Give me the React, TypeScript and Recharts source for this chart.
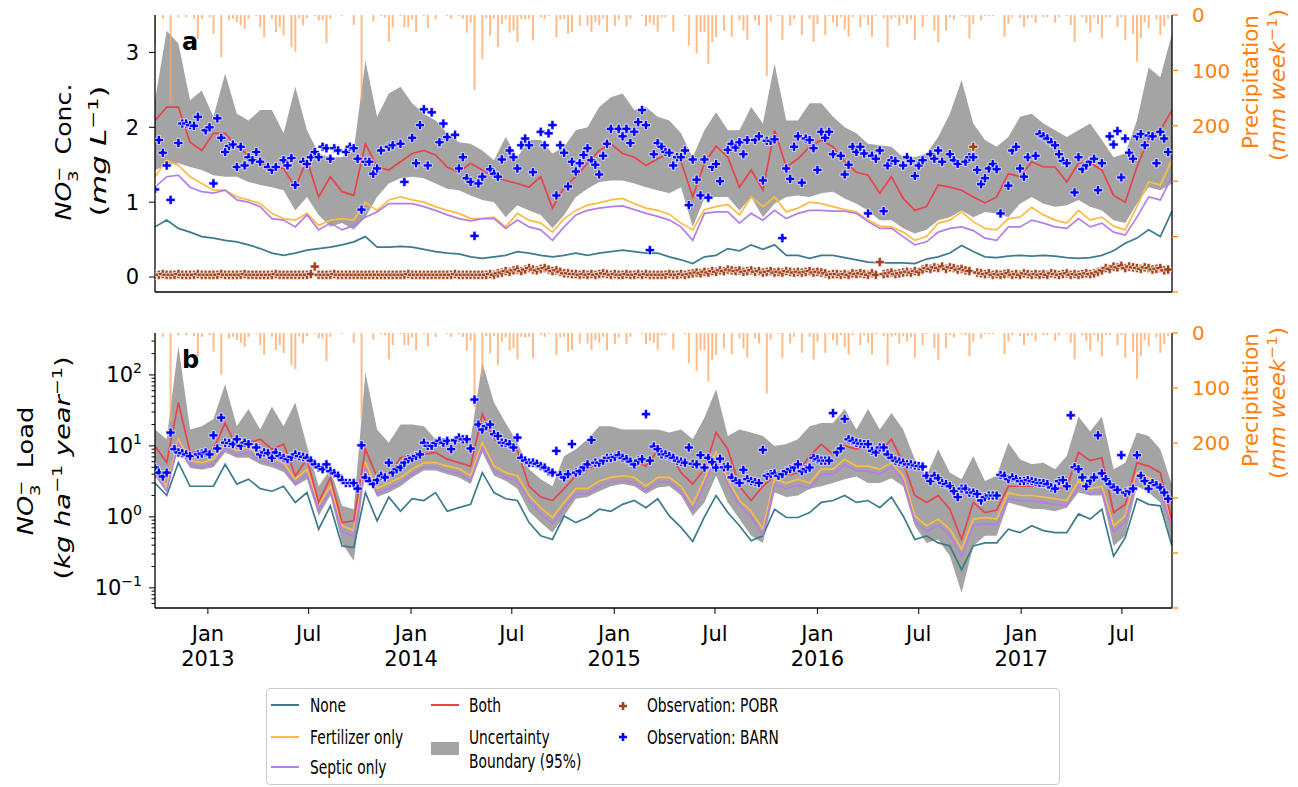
import React from 'react'
import { Area, Bar, ComposedChart, Line, Scatter, XAxis, YAxis } from 'recharts'

// weekly precipitation (mm week-1), first week starts 28 Sep 2012
const PRECIP = [
  54, 0, 7, 0, 160, 0, 4, 0, 4, 0, 6, 43, 7, 0, 4, 34, 0, 76, 0, 10,
  7, 13, 18, 25, 7, 0, 2, 22, 40, 0, 7, 31, 22, 37, 0, 58, 66, 6, 19, 6,
  0, 2, 10, 10, 51, 7, 0, 0, 2, 0, 0, 18, 0, 155, 0, 0, 12, 0, 2, 4,
  48, 22, 0, 2, 22, 22, 8, 31, 0, 2, 24, 0, 8, 0, 0, 2, 7, 0, 2, 7,
  32, 14, 135, 0, 80, 6, 37, 6, 58, 16, 8, 32, 28, 48, 7, 8, 7, 46, 0, 4,
  7, 2, 0, 40, 8, 7, 34, 31, 0, 19, 0, 19, 31, 13, 18, 7, 31, 0, 20, 8,
  0, 20, 7, 0, 0, 2, 20, 14, 18, 30, 4, 4, 0, 30, 0, 0, 2, 55, 0, 69,
  31, 31, 88, 49, 40, 0, 28, 0, 39, 0, 10, 28, 45, 0, 10, 19, 0, 110, 12, 0,
  2, 45, 0, 19, 7, 0, 36, 0, 7, 48, 16, 0, 36, 2, 13, 22, 4, 26, 39, 4,
  0, 22, 4, 18, 39, 2, 0, 6, 58, 7, 4, 19, 6, 16, 8, 45, 0, 22, 2, 0,
  28, 49, 0, 28, 4, 8, 0, 2, 4, 42, 16, 0, 10, 2, 2, 2, 0, 0, 39, 16,
  4, 0, 6, 22, 6, 4, 14, 0, 4, 4, 0, 14, 4, 0, 2, 18, 48, 0, 4, 14,
  32, 4, 16, 42, 4, 4, 0, 22, 4, 45, 0, 34, 84, 42, 13, 24, 0, 8, 36, 20, 6,
]

// weekly observations
const POBR_CONC = [
  .03, .03, .04, .03, .03, .03, .04, .03, .03, .03, .03, .04, .03, .03, .03, .03, .03, .04, .03, .03,
  .03, .03, .03, .04, .03, .03, .03, .03, .03, .03, .03, .04, .03, .03, .03, .03, .03, .03, .03, .03,
  .04, .14, .03, .03, .03, .03, .04, .03, .03, .03, .03, .03, .03, .03, .03, .03, .03, .03, .03, .03,
  .03, .03, .03, .03, .03, .04, .03, .03, .03, .03, .03, .03, .03, .03, .03, .03, .03, .04, .03, .03,
  .03, .03, .03, .03, .03, .03, .04, .03, .05, .06, .08, .07, .09, .1, .08, .1, .12, .1, .09, .11,
  .12, .1, .08, .09, .07, .05, .05, .04, .04, .03, .04, .03, .04, .03, .04, .05, .04, .03, .04, .03,
  .03, .04, .03, .03, .04, .03, .04, .03, .03, .03, .03, .03, .04, .03, .03, .04, .03, .04, .05, .06,
  .05, .07, .06, .08, .07, .09, .08, .1, .09, .08, .09, .07, .08, .09, .07, .08, .06, .07, .08, .06,
  .07, .06, .08, .07, .06, .07, .06, .07, .08, .06, .07, .06, .05, .03, .04, .04, .03, .04, .03, .05,
  .04, .05, .04, .03, .05, .03, .2, .04, .05, .06, .04, .05, .06, .07, .06, .08, .07, .1, .12, .11,
  .13, .12, .14, .11, .13, .12, .1, .11, .09, .08, 1.74, .06, .05, .04, .05, .03, .04, .03, .04, .05,
  .03, .04, .03, .05, .04, .03, .04, .03, .04, .03, .05, .04, .03, .04, .05, .03, .04, .03, .04, .05,
  .04, .05, .07, .09, .12, .11, .14, .13, .15, .12, .14, .13, .12, .11, .13, .12, .1, .11, .12, .09, .1,
]

const BARN_CONC = [
  1.17, 1.83, 1.66, 1.49, 1.03, null, 1.79, 2.05, 2.05, 2.03, 2.02, 2.14, null, 1.96, 2.0, 1.25, 2.12, 1.86, 1.67, 1.75,
  1.77, 1.47, 1.74, 1.49, 1.6, 1.56, 1.67, 1.54, null, 1.47, 1.43, 1.47, null, 1.56, 1.49, 1.59, 1.23, null, 1.54, 1.51,
  1.6, 1.67, 1.6, 1.74, 1.72, 1.58, 1.72, 1.69, null, 1.67, 1.74, 1.72, 1.58, 0.9, 1.54, 1.54, 1.38, 1.45, 1.69, null,
  1.74, 1.76, null, 1.78, 1.27, null, 1.86, 1.52, 2.03, 2.24, 1.49, 2.2, null, 1.8, 2.05, 1.87, null, 1.9, 1.45, 1.6,
  1.32, 1.27, 0.55, 1.25, 1.34, null, 1.44, 1.38, 1.34, 1.57, null, 1.69, 1.6, 1.45, 1.76, 1.85, 1.76, 1.4, null, 1.94,
  1.76, 1.92, 2.03, 1.09, 1.76, 1.66, 1.21, 1.54, 1.41, 1.52, 1.63, 1.72, 1.56, 1.5, 1.37, 1.62, 1.78, 1.98, null, 1.98,
  1.88, 1.98, 1.79, 1.94, 2.07, 2.23, 2.03, 0.36, 1.64, 1.79, 1.74, 1.67, 1.66, 1.49, 1.6, 1.6, 1.69, 0.96, 1.57, 1.3,
  1.09, 1.57, 1.06, 1.47, 1.51, 1.28, null, 1.7, 1.78, 1.73, 1.8, 1.64, 1.83, null, 1.83, 1.88, 1.29, 1.82, 1.82, 1.84,
  null, 0.52, 1.45, 1.31, 1.74, 1.88, 1.26, 1.85, 1.83, 1.72, 1.43, 1.94, 1.86, 1.94, 1.64, null, 1.62, 1.37, 1.5, 1.74,
  1.67, 1.74, 1.65, 0.85, 1.62, 1.58, 1.69, 0.88, 1.49, 1.56, 1.55, null, 1.49, 1.6, 1.55, 1.35, 1.49, 1.56, null, 1.64,
  1.58, 1.69, 1.54, null, 1.64, 1.56, 1.51, null, 1.54, 1.6, 1.6, 1.43, 1.24, 1.32, 1.45, 1.51, 1.44, 0.85, null, 1.22,
  1.69, 1.74, 1.45, 1.34, 1.6, null, 1.62, 1.91, 1.88, 1.85, 1.8, 1.76, 1.64, 1.55, 1.52, null, 1.13, 1.6, 1.44, 1.49,
  1.54, 1.58, 1.16, 1.52, null, 1.88, 1.77, 1.95, 1.33, 1.85, 1.66, 1.58, 1.88, 1.91, 1.76, 1.89, 1.88, 1.52, 1.94, 1.85, 1.67,
]

const BARN_LOAD = [
  4.95, 4.2, 3.7, 4.2, 15.4, 9.0, 8.1, 7.9, 7.6, 7.2, null, 7.6, 7.8, 8.1, 7.6, 14.1, 9.2, 25, 11.1, 11,
  10.6, 12.4, 10, 11.1, 10.6, null, 9.5, 7.6, 8.1, 7.9, 6.8, 8.1, 7.2, 6.8, 6.5, 7, 7.6, 7.2, 7.0, 6.8,
  6.2, 5.5, 5.0, 4.7, 5.5, 4.4, 4.1, 3.8, 3.3, 3.0, 3.0, 3.0, 2.5, 10.2, 3.6, 3.2, 2.9, 3.3, 3.8, 3.6,
  5.8, 4.2, 4.7, 5.0, 5.8, 6.5, 6.8, 7.2, 7.6, 11.1, 10, 10, 11, 11.8, 11.1, 11.8, 9.0, 12, 13.1, 12.4,
  12.4, 9.2, 45, 20, 17, 19, 20, 14.6, 13.8, 11.1, 11, 10.6, 9.5, 13.1, 6.8, 6.2, 5.8, 5.8, 5.6, 5.2,
  4.95, 4.4, 4.2, 8.5, 3.9, 3.6, 4.0, 10.6, 4.2, 4.4, 5.0, 5.5, 12.1, 5.8, 5.8, 6.2, 6.8, 6.8, 7.0, 7.4,
  6.8, 6.5, 6.0, 5.5, 6.2, 6.5, 28, 6.2, 9.8, 9.0, 7.6, 7.6, 7.2, 6.8, 6.2, 6.0, 5.8, 9.5, 5.6, 5.5,
  7.4, 4.95, 6.8, 5.9, 4.95, 6.6, 5.0, 5.1, 3.6, 3.2, 3.0, 4.6, 3.4, 3.2, 3.1, 3.0, 8.8, 3.8, 4.0, 4.1,
  3.8, 4.0, 4.4, 4.7, 4.95, 5.5, 4.4, 4.7, 4.95, 6.8, 6.5, 6.2, 6.2, 6.2, 29, 8.1, 9.2, 24, 12.4, 11.8,
  11.1, 10.8, 10.6, 10.6, 8.5, 8.1, 9.5, 9.5, 7.6, 6.8, 6.2, 6.0, 5.8, 5.5, 5.5, 5.3, 5.2, 5.1, 3.8, 3.2,
  3.8, 3.5, 3.0, 2.9, 2.7, 2.3, 1.9, 2.5, 2.5, 2.2, 2.2, 2.1, 1.7, 1.9, 2.0, 2.0, 2.0, 3.9, 3.8, 3.4,
  3.6, 3.4, 3.2, 3.2, 3.3, 3.2, 3.1, 3.0, 3.0, 2.9, 2.6, 2.5, 3.2, 3.3, 2.7, 27, 5, 4.7, 3.6, 2.7,
  3.2, 3.6, 14.1, 4.1, 3.4, 2.9, 2.6, 2.4, 7.4, 2.2, 2.3, 2.5, 7.4, 3.8, 3.2, 2.5, 3.0, 2.8, 2.6, 2.2, 1.8,
]

// model output, one value every third week
const NONE_A = [
  .67, .76, .65, .60, .54, .52, .49, .47, .43, .38, .32, .29, .32, .36, .38, .40, .43, .47, .54, .40,
  .40, .41, .40, .37, .34, .32, .31, .27, .25, .27, .29, .34, .32, .29, .27, .29, .32, .29, .32, .34,
  .36, .34, .32, .32, .27, .23, .18, .27, .29, .38, .35, .43, .37, .43, .29, .29, .25, .29, .29, .26,
  .23, .20, .19, .19, .19, .18, .24, .27, .32, .42, .34, .27, .26, .28, .29, .28, .29, .28, .26, .25,
  .26, .29, .35, .45, .52, .63, .54, .88,
]
const FERT_A = [
  1.34, 1.56, 1.49, 1.34, 1.25, 1.16, 1.16, 1.07, 1.03, .98, .85, .78, .76, .85, .69, .76, .78, .76, 1.0, .89,
  1.03, 1.07, 1.03, 1.0, .94, .89, .85, .78, .78, .80, .67, .85, .76, .72, .60, .78, .89, .96, .99, 1.03,
  1.05, .98, .92, .89, .84, .72, .63, .90, .94, .97, .83, 1.07, .94, 1.07, .87, .92, 1.0, .98, .94, .90,
  .87, .76, .68, .67, .60, .49, .54, .72, .76, .87, .74, .65, .63, .78, .80, .93, .83, .76, .72, .89,
  .76, .80, .68, .63, .94, 1.27, 1.23, 1.56,
]
const SEPTIC_A = [
  1.2, 1.34, 1.36, 1.2, 1.14, 1.12, 1.16, 1.03, 1.0, .94, .78, .76, .67, .83, .63, .72, .63, .69, .80, .87,
  .98, .98, .98, .94, .89, .83, .78, .75, .78, .78, .65, .76, .67, .63, .49, .67, .83, .89, .92, .94,
  .95, .90, .85, .81, .76, .67, .49, .85, .87, .87, .72, .85, .76, .89, .78, .85, .89, .89, .88, .88,
  .85, .74, .65, .65, .54, .43, .47, .60, .65, .67, .62, .52, .49, .67, .67, .76, .72, .67, .65, .78,
  .67, .72, .60, .56, .80, 1.07, 1.03, 1.34,
]
const BOTH_A = [
  2.09, 2.27, 2.27, 1.8, 1.69, 1.92, 1.92, 1.74, 1.63, 1.52, 1.47, 1.45, 1.2, 1.56, 1.07, 1.34, 1.14, 1.09, 1.78, 1.47,
  1.43, 1.54, 1.65, 1.69, 1.63, 1.47, 1.4, 1.52, 1.43, 1.34, 1.29, 1.25, 1.2, 1.34, .92, 1.2, 1.34, 1.52, 1.69, 1.78,
  1.65, 1.6, 1.49, 1.58, 1.65, 1.54, 1.07, 1.52, 1.75, 1.6, 1.2, 1.43, 1.16, 1.96, 1.47, 1.58, 1.74, 1.83, 1.74, 1.54,
  1.4, 1.36, 1.12, 1.34, 1.05, .89, .94, 1.23, 1.2, 1.16, 1.07, .99, 1.07, 1.38, 1.34, 1.54, 1.47, 1.47, 1.27, 1.52,
  1.52, 1.43, 1.09, 1.0, 1.47, 1.85, 1.96, 2.23,
]
const LOW_A = [
  1.43, 1.49, 1.52, 1.47, 1.43, 1.36, 1.34, 1.34, 1.27, 1.23, 1.2, 1.16, .89, 1.07, .83, .67, .72, .63, .8, 1.07,
  1.25, 1.32, 1.34, 1.32, 1.25, 1.18, 1.16, 1.09, 1.03, 1.0, .8, .96, .89, .83, .65, .83, 1.07, 1.18, 1.27, 1.29,
  1.29, 1.25, 1.2, 1.16, 1.12, 1.2, .67, 1.05, 1.07, 1.07, .89, 1.07, .8, .98, 1.07, 1.09, 1.07, 1.12, 1.14, 1.05,
  .98, .89, .76, .76, .65, .58, .63, .76, .8, .89, .8, .87, .85, .8, .98, 1.07, .98, .94, .96, 1.03,
  .94, .89, .76, .72, .98, 1.2, 1.16, 1.25,
]
const HIGH_A = [
  2.36, 3.29, 3.12, 2.36, 2.49, 2.14, 2.72, 2.18, 2.09, 2.23, 2.23, 1.92, 2.54, 1.96, 1.65, 1.6, 1.6, 1.69, 2.89, 2.14,
  2.45, 2.54, 2.32, 2.18, 2.09, 1.92, 1.8, 1.78, 1.69, 1.56, 1.87, 1.6, 1.83, 1.83, 1.65, 1.74, 1.96, 2.0, 2.27, 2.4,
  2.45, 2.23, 2.27, 2.14, 2.09, 1.92, 1.6, 1.96, 2.2, 1.96, 1.96, 2.27, 2.05, 2.85, 2.09, 2.09, 2.32, 2.32, 2.14, 2.0,
  1.92, 1.78, 1.76, 1.74, 1.6, 1.6, 1.65, 1.87, 2.18, 2.63, 2.05, 1.83, 1.74, 1.87, 2.14, 2.18, 2.05, 1.96, 1.87, 1.96,
  2.05, 1.83, 1.6, 1.65, 2.09, 2.8, 2.67, 3.25,
]

const NONE_B = [
  3.0, 2.0, 5.8, 2.7, 2.7, 2.7, 5.5, 2.9, 3.4, 2.5, 2.3, 2.7, 1.6, 2.2, .67, 1.43, .39, .37, 2.2, .88,
  1.9, 1.2, 1.8, 1.7, 2.2, 1.2, 1.35, 1.5, 4.2, 2.2, 1.8, 1.7, .83, .54, .48, 1.03, .83, .98, 1.28, 1.2,
  1.5, 1.7, 1.35, 1.8, 1.03, .71, .45, 1.0, 2.0, 1.15, .75, .46, .54, 1.28, .98, .98, 1.15, 1.6, 1.7, 2.0,
  1.6, 1.7, 1.35, 1.9, 1.03, .48, .54, .43, .39, .18, .39, .43, .43, .67, .6, .75, .64, .6, .6, 1.1,
  .93, 1.28, .28, .51, 1.8, 1.5, 1.43, .39,
]
const FERT_B = [
  4.7, 2.7, 12.4, 6.2, 5.8, 6.5, 10.6, 8.6, 9.5, 7.2, 6.8, 5.8, 3.4, 4.7, 1.5, 2.7, .75, .64, 5.8, 2.5,
  3.0, 3.6, 4.7, 5.8, 5.8, 5.2, 4.8, 3.8, 11.1, 5.2, 4.2, 3.8, 2.0, 1.35, .98, 1.6, 2.5, 2.5, 3.2, 3.6,
  3.8, 3.6, 2.7, 3.6, 3.6, 2.7, 1.5, 3.4, 8.1, 3.4, 1.7, 1.2, .67, 3.4, 3.0, 3.4, 3.0, 4.7, 4.7, 6.5,
  5.2, 5.2, 4.7, 5.8, 3.8, 1.03, .75, .93, .67, .35, .93, .98, .93, 2.2, 2.0, 2.0, 1.9, 1.8, 1.7, 3.2,
  2.5, 2.7, .75, 1.03, 4.2, 3.6, 2.9, .83,
]
const SEPTIC_B = [
  4.0, 2.3, 11, 5.4, 5.0, 5.6, 9.2, 7.4, 8.2, 6.2, 5.8, 5.0, 2.9, 4.0, 1.25, 2.3, .62, .52, 5.0, 2.1,
  2.5, 3.0, 4.0, 5.0, 5.0, 4.4, 4.1, 3.2, 9.6, 4.4, 3.6, 3.2, 1.7, 1.12, .8, 1.35, 2.1, 2.1, 2.7, 3.1,
  3.2, 3.1, 2.3, 3.1, 3.1, 2.3, 1.25, 2.9, 7.0, 2.9, 1.45, 1.0, .55, 2.9, 2.5, 2.8, 2.5, 4.0, 4.0, 5.5,
  4.4, 4.4, 4.0, 5.0, 3.2, .85, .62, .77, .55, .28, .77, .8, .77, 1.8, 1.7, 1.7, 1.6, 1.5, 1.45, 2.7,
  2.1, 2.3, .62, .85, 3.6, 3.0, 2.4, .7,
]
const BOTH_B = [
  10, 5.8, 41, 8.1, 8.1, 9.0, 21, 9.5, 11.1, 12.4, 9.0, 10.6, 3.8, 6.5, 1.6, 3.6, .83, .88, 9.0, 3.6,
  3.8, 6.8, 7.2, 7.6, 8.1, 6.5, 5.8, 5.2, 28, 12.4, 10.6, 8.6, 2.7, 1.9, 1.7, 2.5, 3.8, 4.7, 5.8, 6.5,
  6.8, 6.2, 5.2, 8.6, 8.1, 4.2, 2.9, 4.7, 15.4, 9.0, 2.7, 1.7, 2.7, 3.8, 3.8, 4.2, 7.2, 10.6, 7.6, 10,
  9.0, 10, 8.1, 12.4, 5.8, 2.0, 1.6, 2.0, 1.28, .48, 1.6, 1.15, 1.25, 2.7, 2.7, 2.7, 2.85, 2.5, 2.6, 8.1,
  6.2, 6.8, 1.15, 1.5, 5.8, 5.2, 4.2, .88,
]
const LOW_B = [
  3.8, 2.5, 9, 4.9, 4.6, 5.0, 8.1, 6.8, 6.8, 5.5, 5.0, 4.3, 2.7, 3.4, 1.03, 2.0, .43, .24, 4.6, 1.9,
  2.2, 2.7, 3.6, 4.5, 4.5, 4.0, 3.6, 2.9, 8.1, 3.8, 3.2, 2.5, 1.2, .83, .6, 1.03, 1.8, 1.9, 2.3, 2.7,
  2.9, 2.7, 2.1, 2.6, 2.7, 2.0, 1.03, 1.6, 3.8, 1.6, .93, .54, .43, 2.2, 1.9, 2.0, 2.5, 2.7, 3.0, 3.4,
  3.7, 3.0, 3.0, 3.5, 2.7, .75, .43, .48, .28, .085, .39, .54, .54, 1.6, 1.43, 1.3, 1.28, 1.2, 1.35, 2.2,
  2.0, 2.0, .39, .54, 2.7, 2.2, 1.6, .43,
]
const HIGH_B = [
  17, 12.4, 257, 17, 19, 24, 74, 19, 33, 17, 36, 19, 41, 10, 2.7, 4.7, 1.43, 1.28, 108, 17,
  11.1, 20, 20, 19, 12.4, 12.4, 13.8, 12.4, 148, 41, 21, 11.1, 4.7, 3.4, 2.7, 7.2, 9.0, 12.4, 19, 19,
  17, 17, 17, 17, 15.4, 17, 12.4, 25, 63, 13.8, 17, 15.4, 13.8, 10, 10.6, 12.4, 19, 21, 21, 33,
  17, 33, 17, 29, 17, 6.5, 3.8, 9.0, 4.2, 3.4, 7.2, 3.2, 3.8, 11.1, 6.5, 5.5, 5.8, 4.7, 7.2, 26,
  16, 26, 4.7, 5.8, 15.4, 13.8, 9.0, 2.8,
]

const CONC_TICKS = [0, 1, 2, 3]
const LOAD_TICKS = [
  0.06, 0.07, 0.08, 0.09, 0.1, 0.2, 0.3, 0.4, 0.5, 0.6, 0.7, 0.8, 0.9,
  1, 2, 3, 4, 5, 6, 7, 8, 9, 10, 20, 30, 40, 50, 60, 70, 80, 90, 100, 200, 300,
]
const PRECIP_TICKS = [0, 100, 200, 300, 400, 500]
const X_TICK_DATES = [
  '2013-01-01', '2013-07-01', '2014-01-01', '2014-07-01', '2015-01-01',
  '2015-07-01', '2016-01-01', '2016-07-01', '2017-01-01', '2017-07-01',
]
const X_TICK_LABELS = ['Jan\n2013', 'Jul', 'Jan\n2014', 'Jul', 'Jan\n2015', 'Jul', 'Jan\n2016', 'Jul', 'Jan\n2017', 'Jul']

const START = Date.UTC(2012, 8, 28)
const END_DAY = 1827
const X_TICK_DAYS = X_TICK_DATES.map((d) => Math.round((Date.parse(d) - START) / 864e5))

const weekRows = PRECIP.map((p, i) => ({ day: i * 7, precip: p }))
const obsRows = (vals: (number | null)[]) =>
  vals.map((v, i) => ({ day: i * 7, v })).filter((d) => d.v != null)

const modelRows = (none: number[], fert: number[], septic: number[], both: number[], lo: number[], hi: number[]) =>
  none.map((v, k) => ({
    day: k * 21,
    none: v,
    fert: fert[k],
    septic: septic[k],
    both: both[k],
    band: [lo[k], hi[k]],
  }))

const rowsA = modelRows(NONE_A, FERT_A, SEPTIC_A, BOTH_A, LOW_A, HIGH_A)
const rowsB = modelRows(NONE_B, FERT_B, SEPTIC_B, BOTH_B, LOW_B, HIGH_B)

const ORANGE = '#ff7f0e'
const C_NONE = '#3c7b8b'
const C_FERT = '#ffbb44'
const C_SEPTIC = '#b27fe6'
const C_BOTH = '#e8434c'
const C_BAND = '#a4a4a4'
const C_POBR = '#a3401a'
const C_BARN = '#0000ff'
const AXIS = { stroke: '#000', strokeWidth: 1.3 }
const FONT = '"DejaVu Sans", sans-serif'

const plusPath = (cx: number, cy: number, a = 1.6, b = 4.6) =>
  `M${cx - a},${cy - b}H${cx + a}V${cy - a}H${cx + b}V${cy + a}H${cx + a}V${cy + b}H${cx - a}V${cy + a}H${cx - b}V${cy - a}H${cx - a}Z`

const plusShape = (color: string) => (props: any) => {
  const { cx, cy } = props
  if (cx == null || cy == null) return <g />
  return <path d={plusPath(cx, cy)} fill={color} stroke="#fff" strokeWidth={0.7} />
}

function DateTick(props: any) {
  const { x, y, payload } = props
  const idx = X_TICK_DAYS.indexOf(payload.value)
  if (idx < 0) return <g />
  const [mon, yr] = X_TICK_LABELS[idx].split('\n')
  return (
    <text x={x} textAnchor="middle" fontSize={21} fill="#000" fontFamily={FONT}>
      <tspan x={x} y={y + 25}>{mon}</tspan>
      {yr && <tspan x={x} y={y + 50}>{yr}</tspan>}
    </text>
  )
}

function LoadTick(props: any) {
  const { x, y, payload } = props
  const lg = Math.log10(payload.value)
  const e = Math.round(lg)
  const major = Math.abs(lg - e) < 1e-6
  const ax = x + 6 + 7
  return (
    <g>
      <line x1={ax} x2={ax - (major ? 6 : 3.5)} y1={y} y2={y} stroke="#000" strokeWidth={1} />
      {major && (
        <text x={x} y={y + 7} textAnchor="end" fontSize={21} fill="#000" fontFamily={FONT}>
          10<tspan dy={-9} fontSize={14}>{e < 0 ? '\u2212' + -e : String(e)}</tspan>
        </text>
      )}
    </g>
  )
}

function PrecipAxis() {
  return (
    <YAxis
      yAxisId="p"
      orientation="right"
      type="number"
      reversed
      domain={[0, 500]}
      ticks={PRECIP_TICKS}
      interval={0}
      allowDataOverflow
      width={60}
      tickSize={6}
      tickMargin={14}
      tickFormatter={(v: number) => (v <= 200 ? String(v) : '')}
      axisLine={AXIS}
      tickLine={{ stroke: ORANGE, strokeWidth: 1.2 }}
      tick={{ fill: ORANGE, fontSize: 20, fontFamily: FONT }}
    />
  )
}

function PanelA() {
  return (
    <ComposedChart width={1298} height={300} data={weekRows} margin={{ top: 15, right: 66, bottom: 0, left: 95 }}>
      <XAxis
        dataKey="day"
        type="number"
        domain={[0, END_DAY]}
        ticks={X_TICK_DAYS}
        interval={0}
        allowDataOverflow
        height={8}
        tickSize={6}
        tick={false}
        axisLine={AXIS}
        tickLine={{ stroke: '#000' }}
      />
      <XAxis xAxisId="top" orientation="top" type="number" domain={[0, END_DAY]} height={0} tick={false} tickLine={false} axisLine={AXIS} />
      <YAxis
        yAxisId="c"
        type="number"
        domain={[-0.2, 3.5]}
        ticks={CONC_TICKS}
        interval={0}
        allowDataOverflow
        width={60}
        tickSize={6}
        tickMargin={10}
        axisLine={AXIS}
        tickLine={{ stroke: '#000' }}
        tick={{ fill: '#000', fontSize: 21, fontFamily: FONT }}
      />
      {PrecipAxis()}
      <Area yAxisId="c" data={rowsA} dataKey="band" type="linear" stroke="none" fill={C_BAND} fillOpacity={1} isAnimationActive={false} />
      <Line yAxisId="c" data={rowsA} dataKey="none" type="linear" stroke={C_NONE} strokeWidth={1.7} dot={false} isAnimationActive={false} />
      <Line yAxisId="c" data={rowsA} dataKey="fert" type="linear" stroke={C_FERT} strokeWidth={1.7} dot={false} isAnimationActive={false} />
      <Line yAxisId="c" data={rowsA} dataKey="septic" type="linear" stroke={C_SEPTIC} strokeWidth={1.7} dot={false} isAnimationActive={false} />
      <Line yAxisId="c" data={rowsA} dataKey="both" type="linear" stroke={C_BOTH} strokeWidth={1.7} dot={false} isAnimationActive={false} />
      <Bar yAxisId="p" dataKey="precip" barSize={2} fill="#ffa560" fillOpacity={0.75} isAnimationActive={false} />
      <Scatter yAxisId="c" data={obsRows(POBR_CONC)} dataKey="v" shape={plusShape(C_POBR)} isAnimationActive={false} />
      <Scatter yAxisId="c" data={obsRows(BARN_CONC)} dataKey="v" shape={plusShape(C_BARN)} isAnimationActive={false} />
    </ComposedChart>
  )
}

function PanelB() {
  return (
    <ComposedChart width={1298} height={360} data={weekRows} margin={{ top: 15, right: 66, bottom: 0, left: 95 }}>
      <XAxis
        dataKey="day"
        type="number"
        domain={[0, END_DAY]}
        ticks={X_TICK_DAYS}
        interval={0}
        allowDataOverflow
        height={70}
        tickSize={6}
        tickMargin={2}
        tick={<DateTick />}
        axisLine={AXIS}
        tickLine={{ stroke: '#000' }}
      />
      <XAxis xAxisId="top" orientation="top" type="number" domain={[0, END_DAY]} height={0} tick={false} tickLine={false} axisLine={AXIS} />
      <YAxis
        yAxisId="l"
        type="number"
        scale="log"
        domain={[0.052, 390]}
        ticks={LOAD_TICKS}
        interval={0}
        allowDataOverflow
        width={60}
        tickSize={6}
        tickMargin={7}
        axisLine={AXIS}
        tickLine={false}
        tick={<LoadTick />}
      />
      {PrecipAxis()}
      <Area yAxisId="l" data={rowsB} dataKey="band" type="linear" stroke="none" fill={C_BAND} fillOpacity={1} isAnimationActive={false} />
      <Line yAxisId="l" data={rowsB} dataKey="none" type="linear" stroke={C_NONE} strokeWidth={1.7} dot={false} isAnimationActive={false} />
      <Line yAxisId="l" data={rowsB} dataKey="fert" type="linear" stroke={C_FERT} strokeWidth={1.7} dot={false} isAnimationActive={false} />
      <Line yAxisId="l" data={rowsB} dataKey="septic" type="linear" stroke={C_SEPTIC} strokeWidth={1.7} dot={false} isAnimationActive={false} />
      <Line yAxisId="l" data={rowsB} dataKey="both" type="linear" stroke={C_BOTH} strokeWidth={1.7} dot={false} isAnimationActive={false} />
      <Bar yAxisId="p" dataKey="precip" barSize={2} fill="#ffa560" fillOpacity={0.75} isAnimationActive={false} />
      <Scatter yAxisId="l" data={obsRows(BARN_LOAD)} dataKey="v" shape={plusShape(C_BARN)} isAnimationActive={false} />
    </ComposedChart>
  )
}

const Ion = ({ sub, sup }: { sub: string; sup: string }) => (
  <span style={{ position: 'relative', display: 'inline-block', fontSize: '0.7em', lineHeight: 1 }}>
    <span style={{ position: 'relative', top: '0.45em' }}>{sub}</span>
    <span style={{ position: 'absolute', left: 0, top: '-0.45em' }}>{sup}</span>
  </span>
)
const Sup = ({ children }: { children: React.ReactNode }) => (
  <span style={{ fontSize: '0.7em', position: 'relative', top: '-0.55em' }}>{children}</span>
)

// rotated axis title; sx stretches the text along its own direction
function Rot({ x, y, sx = 1, color = '#000', children }: { x: number; y: number; sx?: number; color?: string; children: React.ReactNode }) {
  return (
    <div
      style={{
        position: 'absolute',
        left: x,
        top: y,
        transform: `translate(-50%, -50%) rotate(-90deg) scaleX(${sx})`,
        whiteSpace: 'nowrap',
        fontSize: 21,
        lineHeight: 1,
        color,
      }}
    >
      {children}
    </div>
  )
}

const LEG_TEXT: React.CSSProperties = {
  position: 'absolute',
  fontSize: 20,
  lineHeight: '20px',
  whiteSpace: 'nowrap',
  transform: 'scaleX(0.69)',
  transformOrigin: 'left center',
}

function LegText({ x, y, children }: { x: number; y: number; children: React.ReactNode }) {
  return <div style={{ ...LEG_TEXT, left: x, top: y - 10 }}>{children}</div>
}
function LegLine({ x, y, color }: { x: number; y: number; color: string }) {
  return <div style={{ position: 'absolute', left: x, top: y - 1, width: 28, height: 2, background: color }} />
}
function LegPlus({ x, y, color }: { x: number; y: number; color: string }) {
  return (
    <svg style={{ position: 'absolute', left: x - 6, top: y - 6 }} width={12} height={12}>
      <path d={plusPath(6, 6, 1.3, 4)} fill={color} />
    </svg>
  )
}

export default function App() {
  return (
    <div style={{ position: 'absolute', left: 0, top: 0, width: 1298, height: 787, background: '#fff', fontFamily: FONT, overflow: 'hidden' }}>
      <div style={{ position: 'absolute', left: 0, top: 0 }}>
        <PanelA />
      </div>
      <div style={{ position: 'absolute', left: 0, top: 318 }}>
        <PanelB />
      </div>

      <div style={{ position: 'absolute', left: 182, top: 28, fontSize: 24, fontWeight: 'bold' }}>a</div>
      <div style={{ position: 'absolute', left: 182, top: 346, fontSize: 24, fontWeight: 'bold' }}>b</div>

      <Rot x={64} y={152} sx={1.2}>
        <i>NO</i><Ion sub="3" sup={'\u2212'} />&nbsp; Conc.
      </Rot>
      <Rot x={99} y={151} sx={1.45}>
        (<i>mg L</i><Sup>{'\u2212'}1</Sup>)
      </Rot>
      <Rot x={26} y={471} sx={1.22}>
        <i>NO</i><Ion sub="3" sup={'\u2212'} />&nbsp; Load
      </Rot>
      <Rot x={63} y={468} sx={1.3}>
        (<i>kg ha</i><Sup>{'\u2212'}1</Sup> <i>year</i><Sup>{'\u2212'}1</Sup>)
      </Rot>
      <Rot x={1251} y={82} sx={1.02} color={ORANGE}>Precipitation</Rot>
      <Rot x={1278} y={85} sx={1.08} color={ORANGE}>
        (<i>mm week</i><Sup>{'\u2212'}1</Sup>)
      </Rot>
      <Rot x={1251} y={400} sx={1.02} color={ORANGE}>Precipitation</Rot>
      <Rot x={1278} y={403} sx={1.08} color={ORANGE}>
        (<i>mm week</i><Sup>{'\u2212'}1</Sup>)
      </Rot>

      <div style={{ position: 'absolute', left: 266, top: 688, width: 794, height: 97, border: '1px solid #cccccc', borderRadius: 4, boxSizing: 'border-box' }} />
      <LegLine x={271} y={705} color={C_NONE} />
      <LegText x={310} y={705}>None</LegText>
      <LegLine x={271} y={737} color={C_FERT} />
      <LegText x={310} y={737}>Fertilizer only</LegText>
      <LegLine x={271} y={767} color={C_SEPTIC} />
      <LegText x={310} y={767}>Septic only</LegText>
      <LegLine x={431} y={705} color={C_BOTH} />
      <LegText x={469} y={705}>Both</LegText>
      <div style={{ position: 'absolute', left: 431, top: 742, width: 28, height: 13, background: C_BAND }} />
      <LegText x={469} y={737}>Uncertainty</LegText>
      <LegText x={469} y={761}>Boundary (95%)</LegText>
      <LegPlus x={623} y={706} color={C_POBR} />
      <LegText x={647} y={705}>Observation: POBR</LegText>
      <LegPlus x={623} y={737} color={C_BARN} />
      <LegText x={647} y={737}>Observation: BARN</LegText>
    </div>
  )
}
